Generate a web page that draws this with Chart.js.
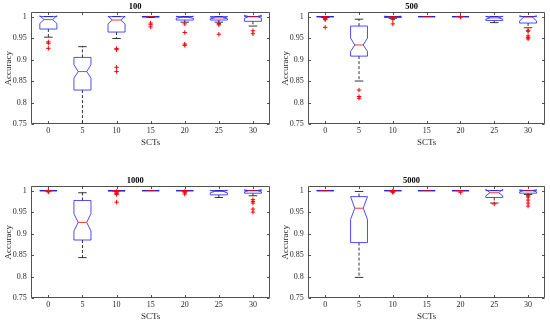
<!DOCTYPE html>
<html><head><meta charset="utf-8">
<script src="https://cdn.jsdelivr.net/npm/chart.js@4.4.1/dist/chart.umd.min.js"></script>
<style>
html,body{margin:0;padding:0;background:#fff;width:550px;height:322px;overflow:hidden;position:relative;}
canvas{position:absolute;}
</style></head><body>
<canvas id="c0" width="275" height="148" style="left:0px;top:0px;width:275px;height:148px"></canvas>
<canvas id="c1" width="273" height="148" style="left:277px;top:0px;width:273px;height:148px"></canvas>
<canvas id="c2" width="275" height="148" style="left:0px;top:174px;width:275px;height:148px"></canvas>
<canvas id="c3" width="273" height="148" style="left:277px;top:174px;width:273px;height:148px"></canvas>
<script>
// ---------- data ----------
const categories = ['0','5','10','15','20','25','30'];
const yTickValues = [0.75, 0.8, 0.85, 0.9, 0.95, 1];
const panelTitles = ['100', '500', '1000', '5000'];
const xTitle = 'SCTs';
const yTitle = 'Accuracy';

// panel "100"
const whiskerLow100  = [0.952, 0.720, 0.949, 0.998, 0.987, 0.987, 0.978];
const q1_100         = [0.971, 0.829, 0.964, 0.999, 0.992, 0.992, 0.989];
const notchLow100    = [0.984, 0.857, 0.983, 0.9995, 0.996, 0.995, 0.996];
const median100      = [0.993, 0.872, 0.992, 1.000, 0.998, 0.997, 1.000];
const notchHigh100   = [1.002, 0.888, 1.001, 1.0005, 1.001, 0.999, 1.003];
const q3_100         = [1.000, 0.905, 1.000, 1.000, 1.000, 1.000, 1.000];
const whiskerHigh100 = [1.000, 0.930, 1.000, 1.000, 1.000, 1.000, 1.000];
const outliers100 = [['0',0.941],['0',0.938],['0',0.926],
  ['10',0.926],['10',0.923],['10',0.882],['10',0.872],
  ['15',0.985],['15',0.981],['15',0.976],
  ['20',0.983],['20',0.963],['20',0.936],['20',0.933],
  ['25',0.984],['25',0.981],['25',0.959],
  ['30',0.967],['30',0.960]];

// panel "500"
const whiskerLow500  = [0.998, 0.850, 0.996, 1.000, 1.000, 0.986, 0.974];
const q1_500         = [0.9995, 0.908, 0.998, 0.9995, 0.9995, 0.991, 0.985];
const notchLow500    = [0.9998, 0.919, 0.999, 0.9998, 0.9998, 0.994, 0.990];
const median500      = [1.000, 0.934, 1.000, 1.000, 1.000, 0.997, 0.999];
const notchHigh500   = [1.000, 0.950, 1.001, 1.000, 1.000, 1.001, 1.002];
const q3_500         = [1.000, 0.978, 1.000, 1.000, 1.000, 1.000, 1.000];
const whiskerHigh500 = [1.000, 0.994, 1.000, 1.000, 1.000, 1.000, 1.000];
const outliers500 = [['0',0.996],['0',0.994],['0',0.993],['0',0.975],
  ['5',0.829],['5',0.814],['5',0.810],
  ['10',0.993],['10',0.983],
  ['20',0.999],
  ['30',0.968],['30',0.966],['30',0.955],['30',0.951],['30',0.948]];

// panel "1000"
const whiskerLow1000  = [0.9995, 0.844, 0.999, 1.000, 0.9995, 0.984, 0.988];
const q1_1000         = [0.9995, 0.885, 0.999, 0.9995, 0.9995, 0.990, 0.994];
const notchLow1000    = [0.9998, 0.906, 0.9995, 0.9998, 0.9998, 0.995, 0.997];
const median1000      = [1.000, 0.926, 1.000, 1.000, 1.000, 0.998, 1.000];
const notchHigh1000   = [1.000, 0.946, 1.000, 1.000, 1.000, 1.001, 1.002];
const q3_1000         = [1.000, 0.977, 1.000, 1.000, 1.000, 1.000, 1.000];
const whiskerHigh1000 = [1.000, 0.995, 1.000, 1.000, 1.000, 1.000, 1.000];
const outliers1000 = [['0',0.999],['0',0.998],['0',0.997],
  ['10',0.998],['10',0.996],['10',0.993],['10',0.991],['10',0.973],
  ['20',0.998],['20',0.995],['20',0.992],
  ['30',0.979],['30',0.975],['30',0.971],['30',0.957],['30',0.950]];

// panel "5000"
const whiskerLow5000  = [1.000, 0.798, 0.9995, 1.000, 0.9995, 0.971, 0.991];
const q1_5000         = [0.9995, 0.879, 0.9995, 0.9995, 0.9995, 0.984, 0.994];
const notchLow5000    = [0.9998, 0.933, 0.9998, 0.9998, 0.9998, 0.988, 0.997];
const median5000      = [1.000, 0.959, 1.000, 1.000, 1.000, 0.995, 1.000];
const notchHigh5000   = [1.000, 0.986, 1.000, 1.000, 1.000, 1.003, 1.002];
const q3_5000         = [1.000, 0.986, 1.000, 1.000, 1.000, 1.000, 1.000];
const whiskerHigh5000 = [1.000, 0.998, 1.000, 1.000, 1.000, 1.000, 1.000];
const outliers5000 = [['10',0.999],['10',0.998],['10',0.997],['10',0.996],
  ['20',0.996],
  ['25',0.969],
  ['30',0.988],['30',0.985],['30',0.978],['30',0.971],['30',0.964]];

// ---------- tables built from the arrays ----------
const panels = [
  {title: panelTitles[0], wl: whiskerLow100, q1: q1_100, nlo: notchLow100, med: median100, nhi: notchHigh100, q3: q3_100, wh: whiskerHigh100, out: outliers100},
  {title: panelTitles[1], wl: whiskerLow500, q1: q1_500, nlo: notchLow500, med: median500, nhi: notchHigh500, q3: q3_500, wh: whiskerHigh500, out: outliers500},
  {title: panelTitles[2], wl: whiskerLow1000, q1: q1_1000, nlo: notchLow1000, med: median1000, nhi: notchHigh1000, q3: q3_1000, wh: whiskerHigh1000, out: outliers1000},
  {title: panelTitles[3], wl: whiskerLow5000, q1: q1_5000, nlo: notchLow5000, med: median5000, nhi: notchHigh5000, q3: q3_5000, wh: whiskerHigh5000, out: outliers5000}
];

const FONT = "'Liberation Serif', 'Times New Roman', serif";
const AXIS_COLOR = '#262626';

function makeBoxPlugin(p) {
  return {
    id: 'notchedBoxes',
    beforeDatasetsDraw(chart) {
      const {ctx, chartArea: a, scales: {x, y}} = chart;
      const step = x.getPixelForValue(1) - x.getPixelForValue(0);
      const hw = step * 0.25;
      const Y = v => y.getPixelForValue(v);
      ctx.save();
      ctx.beginPath();
      ctx.rect(a.left, a.top, a.right - a.left, a.bottom - a.top);
      ctx.clip();
      for (let i = 0; i < categories.length; i++) {
        const cx = x.getPixelForValue(i);
        // whiskers
        ctx.strokeStyle = '#000';
        ctx.lineWidth = 0.8;
        ctx.setLineDash([3, 2]);
        ctx.beginPath();
        if (p.wh[i] > p.q3[i]) { ctx.moveTo(cx, Y(p.q3[i])); ctx.lineTo(cx, Y(p.wh[i])); }
        if (p.wl[i] < p.q1[i]) { ctx.moveTo(cx, Y(p.q1[i])); ctx.lineTo(cx, Y(p.wl[i])); }
        ctx.stroke();
        ctx.setLineDash([]);
        // caps
        ctx.beginPath();
        ctx.moveTo(cx - hw / 2, Y(p.wh[i])); ctx.lineTo(cx + hw / 2, Y(p.wh[i]));
        ctx.moveTo(cx - hw / 2, Y(p.wl[i])); ctx.lineTo(cx + hw / 2, Y(p.wl[i]));
        ctx.stroke();
        // notched box
        ctx.strokeStyle = '#2020ff';
        ctx.lineWidth = 0.8;
        ctx.beginPath();
        ctx.moveTo(cx - hw, Y(p.q1[i]));
        ctx.lineTo(cx - hw, Y(p.nlo[i]));
        ctx.lineTo(cx - hw / 2, Y(p.med[i]));
        ctx.lineTo(cx - hw, Y(p.nhi[i]));
        ctx.lineTo(cx - hw, Y(p.q3[i]));
        ctx.lineTo(cx + hw, Y(p.q3[i]));
        ctx.lineTo(cx + hw, Y(p.nhi[i]));
        ctx.lineTo(cx + hw / 2, Y(p.med[i]));
        ctx.lineTo(cx + hw, Y(p.nlo[i]));
        ctx.lineTo(cx + hw, Y(p.q1[i]));
        ctx.closePath();
        ctx.stroke();
        // median
        ctx.strokeStyle = '#ff0000';
        ctx.beginPath();
        ctx.moveTo(cx - hw / 2, Y(p.med[i])); ctx.lineTo(cx + hw / 2, Y(p.med[i]));
        ctx.stroke();
      }
      ctx.restore();
    },
    afterDraw(chart) {
      const {ctx, chartArea: a, scales: {x, y}} = chart;
      const L = Math.round(a.left) + 0.5, R = Math.round(a.right) - 0.5;
      const T = Math.round(a.top) + 0.5, B = Math.round(a.bottom) - 0.5;
      ctx.save();
      ctx.strokeStyle = AXIS_COLOR;
      ctx.lineWidth = 0.8;
      ctx.beginPath();
      ctx.rect(L, T, R - L, B - T);
      const tl = 2.5;
      yTickValues.forEach(v => {
        const py = Math.round(y.getPixelForValue(v)) + 0.5;
        ctx.moveTo(L, py); ctx.lineTo(L + tl, py);
        ctx.moveTo(R, py); ctx.lineTo(R - tl, py);
      });
      categories.forEach((c, i) => {
        const px = Math.round(x.getPixelForValue(i)) + 0.5;
        ctx.moveTo(px, B); ctx.lineTo(px, B - tl);
        ctx.moveTo(px, T); ctx.lineTo(px, T + tl);
      });
      ctx.stroke();
      ctx.restore();
    }
  };
}

function makeChart(id, p, padRight) {
  new Chart(document.getElementById(id), {
    type: 'scatter',
    data: {
      labels: categories,
      datasets: [{
        data: p.out.map(([c, v]) => ({x: c, y: v})),
        pointStyle: 'cross',
        pointRadius: 2.2,
        borderColor: '#ff0000',
        backgroundColor: '#ff0000',
        borderWidth: 1
      }]
    },
    options: {
      responsive: false,
      animation: false,
      events: [],
      layout: {padding: {left: 0, right: padRight, top: 0, bottom: 0}},
      plugins: {
        legend: {display: false},
        tooltip: {enabled: false},
        title: {
          display: true,
          text: p.title,
          color: '#000',
          font: {family: FONT, size: 8.5, weight: 'bold', lineHeight: 1.2},
          padding: {top: 1.6, bottom: 0.5}
        }
      },
      scales: {
        x: {
          type: 'category',
          labels: categories,
          offset: true,
          grid: {display: false, drawTicks: false},
          border: {display: false},
          ticks: {color: AXIS_COLOR, font: {family: FONT, size: 8}, padding: 2.5, maxRotation: 0, autoSkip: false},
          title: {display: true, text: xTitle, color: AXIS_COLOR, font: {family: FONT, size: 9, lineHeight: 1.2}, padding: {top: 0, bottom: 0}},
          afterFit: s => { s.height = 24; }
        },
        y: {
          type: 'linear',
          min: 0.75,
          max: 1.01,
          grid: {display: false, drawTicks: false},
          border: {display: false},
          afterBuildTicks: s => { s.ticks = yTickValues.map(v => ({value: v})); },
          ticks: {color: AXIS_COLOR, font: {family: FONT, size: 8}, padding: 4.5, callback: v => String(v)},
          title: {display: true, text: yTitle, color: AXIS_COLOR, font: {family: FONT, size: 9, lineHeight: 1.2}, padding: {top: 3.3, bottom: 0}},
          afterFit: s => { s.width = 31.3; }
        }
      }
    },
    plugins: [makeBoxPlugin(p)]
  });
}

makeChart('c0', panels[0], 4.6);
makeChart('c1', panels[1], 4);
makeChart('c2', panels[2], 4.6);
makeChart('c3', panels[3], 4);
</script>
</body></html>
